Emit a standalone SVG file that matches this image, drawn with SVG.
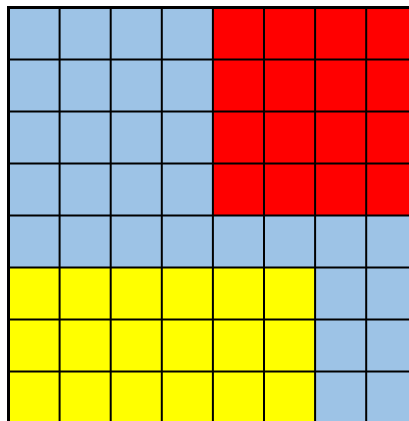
<svg xmlns="http://www.w3.org/2000/svg" width="409" height="421" viewBox="0 0 409 421">
<style>
.b{fill:#9dc3e6}.r{fill:#ff0000}.y{fill:#ffff00}
.g{stroke:#000;stroke-width:2;fill:none}
</style>
<rect width="409" height="421" fill="#fff"/>
<g id="regions">
<rect class="b" x="8.5" y="7.5" width="409" height="416"/>
<rect class="r" x="212.9" y="7.5" width="204.4" height="208"/>
<rect class="y" x="8.5" y="267.5" width="306.6" height="156"/>
</g>
<g id="grid" class="g">
<path d="M59.6 7.5V424M110.7 7.5V424M161.8 7.5V424M212.9 7.5V424M264 7.5V424M315.1 7.5V424M366.2 7.5V424"/>
<path d="M8.5 59.5H410M8.5 111.5H410M8.5 163.5H410M8.5 215.5H410M8.5 267.5H410M8.5 319.5H410M8.5 371.5H410"/>
<path d="M8.5 424V7.5H410" stroke-width="3"/>
</g>
</svg>
